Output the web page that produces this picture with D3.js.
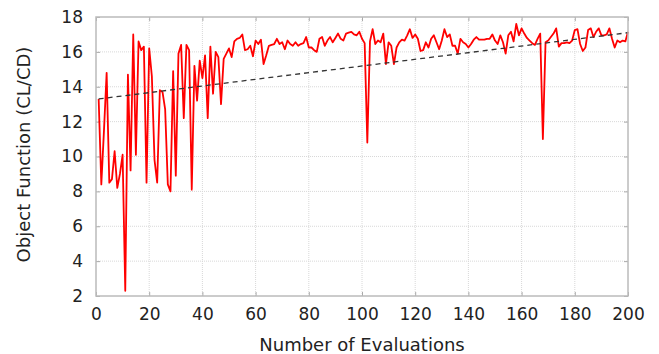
<!DOCTYPE html>
<html>
<head>
<meta charset="utf-8">
<script src="https://cdn.jsdelivr.net/npm/d3@7"></script>
<style>
  body { margin: 0; background: #fff; }
  svg text { font-family: "DejaVu Sans", sans-serif; fill: #222; }
</style>
</head>
<body>
<svg width="659" height="354"></svg>
<script>
// object function value per evaluation (evaluation 1..200)
const values = [
  13.3, 8.4, 11.5, 14.8, 8.5, 8.7, 10.3, 8.2, 9.0, 10.1,
  2.3, 14.7, 9.2, 17.0, 10.1, 16.6, 16.1, 16.3, 8.5, 16.2,
  14.6, 9.8, 8.5, 13.8, 13.7, 12.7, 8.4, 8.0, 14.9, 8.9,
  15.9, 16.4, 12.2, 16.4, 16.1, 8.1, 15.2, 13.2, 15.5, 14.5,
  15.8, 12.2, 16.3, 13.6, 16.0, 15.7, 13.0, 15.6, 15.9, 16.2,
  15.7, 16.6, 16.75, 16.8, 17.0, 16.1, 16.15, 16.35, 15.75, 16.65,
  16.45, 16.7, 15.3, 15.8, 16.35, 16.4, 16.45, 16.75, 16.45, 16.55,
  16.15, 16.65, 16.45, 16.35, 16.55, 16.35, 16.45, 16.5, 16.85, 16.25,
  16.25, 16.1, 16.0, 16.75, 16.85, 16.35, 16.65, 16.85, 16.55, 16.8,
  17.05, 16.75, 16.65, 17.05, 17.1, 17.15, 17.0, 16.95, 17.15, 16.75,
  16.5, 10.8, 16.6, 17.3, 16.45, 16.65, 16.55, 17.05, 15.3, 16.55,
  16.35, 15.3, 16.25, 16.55, 16.7, 16.65, 16.95, 17.3, 16.8, 17.0,
  16.75, 16.05, 16.1, 16.55, 16.25, 16.75, 16.95, 16.55, 16.15, 16.65,
  17.3, 16.85, 17.0, 16.35, 16.35, 15.9, 16.75, 16.55, 16.45, 16.25,
  16.45, 16.7, 16.85, 16.7, 16.7, 16.7, 16.75, 16.75, 17.0, 16.65,
  16.45, 16.95, 16.55, 15.9, 16.95, 17.15, 16.6, 17.6, 16.95, 17.35,
  17.05, 16.8, 16.65, 16.5, 16.4, 16.75, 17.05, 11.0, 16.55, 16.65,
  16.85, 17.05, 17.35, 16.3, 16.5, 16.5, 16.55, 16.5, 16.65, 17.25,
  17.3, 16.45, 16.05, 16.25, 17.25, 17.35, 16.85, 17.15, 17.35, 16.95,
  16.95, 17.0, 17.35, 16.75, 16.25, 16.65, 16.55, 16.65, 16.6, 17.15
];

// trend line end points
const trendX = [1, 200];
const trendY = [13.3, 17.1];

// tick values
const xTicks = [0, 20, 40, 60, 80, 100, 120, 140, 160, 180, 200];
const yTicks = [2, 4, 6, 8, 10, 12, 14, 16, 18];

const margin = { top: 17, right: 31, bottom: 58, left: 96 };
const width = 659 - margin.left - margin.right;
const height = 354 - margin.top - margin.bottom;

const x = d3.scaleLinear().domain([0, 200]).range([0, width]);
const y = d3.scaleLinear().domain([2, 18]).range([height, 0]);

const svg = d3.select("svg")
  .append("g")
  .attr("transform", "translate(" + margin.left + "," + margin.top + ")");

// grid
svg.append("g")
  .selectAll("line.gx")
  .data(xTicks.slice(1, -1))
  .join("line")
  .attr("x1", d => x(d)).attr("x2", d => x(d))
  .attr("y1", 0).attr("y2", height)
  .attr("stroke", "#d8d8d8")
  .attr("stroke-dasharray", "1,1");
svg.append("g")
  .selectAll("line.gy")
  .data(yTicks.slice(1, -1))
  .join("line")
  .attr("x1", 0).attr("x2", width)
  .attr("y1", d => y(d)).attr("y2", d => y(d))
  .attr("stroke", "#d8d8d8")
  .attr("stroke-dasharray", "1,1");

// axes
const xAxis = d3.axisBottom(x).tickValues(xTicks).tickSize(-4).tickPadding(12);
const yAxis = d3.axisLeft(y).tickValues(yTicks).tickSize(-4).tickPadding(13);

const bottomAxis = svg.append("g")
  .attr("transform", "translate(0," + height + ")")
  .call(xAxis);
const leftAxis = svg.append("g").call(yAxis);

[bottomAxis, leftAxis].forEach(g => {
  g.select(".domain").remove();
  g.selectAll("line").attr("stroke", "#aaa");
  g.selectAll("text")
    .style("font-family", "'DejaVu Sans', sans-serif")
    .style("font-size", "17px")
    .attr("fill", "#222");
});

// mirror ticks on top and right
svg.append("g")
  .call(d3.axisTop(x).tickValues(xTicks).tickSize(-4).tickFormat(""))
  .call(g => g.select(".domain").remove())
  .selectAll("line").attr("stroke", "#aaa");
svg.append("g")
  .attr("transform", "translate(" + width + ",0)")
  .call(d3.axisRight(y).tickValues(yTicks).tickSize(-4).tickFormat(""))
  .call(g => g.select(".domain").remove())
  .selectAll("line").attr("stroke", "#aaa");

// data line
const line = d3.line()
  .x((d, i) => x(i + 1))
  .y(d => y(d));

svg.append("path")
  .datum(values)
  .attr("fill", "none")
  .attr("stroke", "#ff0000")
  .attr("stroke-width", 1.8)
  .attr("stroke-linejoin", "round")
  .attr("d", line);

// trend line
svg.append("line")
  .attr("x1", x(trendX[0])).attr("y1", y(trendY[0]))
  .attr("x2", x(trendX[1])).attr("y2", y(trendY[1]))
  .attr("stroke", "#333")
  .attr("stroke-width", 1.3)
  .attr("stroke-dasharray", "5,4");

// frame
svg.append("rect")
  .attr("width", width)
  .attr("height", height)
  .attr("fill", "none")
  .attr("stroke", "#bbb")
  .attr("stroke-width", 1.5);

// axis labels
svg.append("text")
  .attr("x", width / 2)
  .attr("y", height + 55)
  .attr("text-anchor", "middle")
  .style("font-size", "18px")
  .text("Number of Evaluations");

svg.append("text")
  .attr("transform", "rotate(-90)")
  .attr("x", -height / 2 + 2)
  .attr("y", -66)
  .attr("text-anchor", "middle")
  .style("font-size", "18px")
  .text("Object Function (CL/CD)");
</script>
</body>
</html>
